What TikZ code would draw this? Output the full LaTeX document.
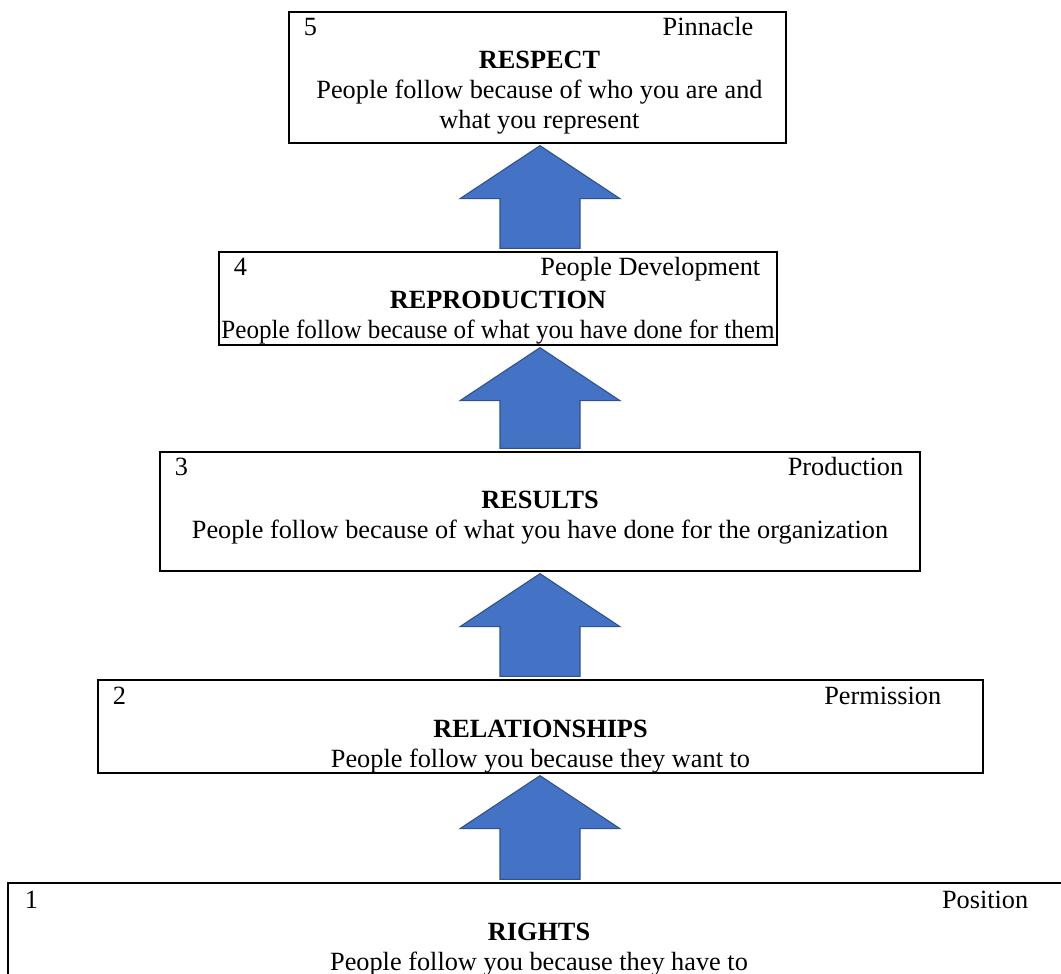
\documentclass[tikz,border=0pt]{standalone}
\usepackage{fontspec}
\usepackage{graphicx}
\setmainfont{Liberation Serif}
\usetikzlibrary{calc,positioning}
\definecolor{arrowblue}{RGB}{68,114,196}
\definecolor{arrowedge}{RGB}{47,82,143}
\newcommand\pxlen{0.4563pt}
\tikzset{
  levelbox/.style={draw=black,line width=0.6pt,rectangle,inner sep=0pt},
  levelnum/.style={anchor=base west,inner sep=0pt},
  levelname/.style={anchor=base east,inner sep=0pt},
  leveltext/.style={anchor=north,inner sep=0pt,align=center},
  blockarrow/.style={fill=arrowblue,draw=arrowedge,line width=0.5pt,line join=miter}
}

\begin{document}
\begin{tikzpicture}[x=\pxlen,y=\pxlen,font=\fontsize{12}{13.7}\selectfont]
\useasboundingbox (0,0) rectangle (1061,-973);
\clip (0,0) rectangle (1061,-973);
\coordinate (axis) at (540,0);

% the five levels, from the top down
\node[levelbox,minimum width=497*\pxlen,minimum height=131*\pxlen] (lvlfive) at (537.5,-77.5) {};
\node[levelnum] (lvlfive-num) at ([shift={(15,-24)}]lvlfive.north west) {5};
\node[levelname] (lvlfive-name) at ([shift={(-33,-24)}]lvlfive.north east) {Pinnacle};
\node[leveltext] (lvlfive-text) at ([shift={(2,-39)}]lvlfive.north)
  {\textbf{RESPECT}\\People follow because of who you are and\\what you represent};

\node[levelbox,minimum width=558*\pxlen,minimum height=93*\pxlen] (lvlfour) at (498,-298.5) {};
\node[levelnum] (lvlfour-num) at ([shift={(15,-24)}]lvlfour.north west) {4};
\node[levelname] (lvlfour-name) at ([shift={(-17,-24)}]lvlfour.north east) {People Development};
\node[leveltext] (lvlfour-text) at ([shift={(0,-39)}]lvlfour.north)
  {\textbf{REPRODUCTION}\\\scalebox{0.955}[1]{People follow because of what you have done for them}};

\node[levelbox,minimum width=760*\pxlen,minimum height=119*\pxlen] (lvlthree) at (540,-511.5) {};
\node[levelnum] (lvlthree-num) at ([shift={(15,-24)}]lvlthree.north west) {3};
\node[levelname] (lvlthree-name) at ([shift={(-17,-24)}]lvlthree.north east) {Production};
\node[leveltext] (lvlthree-text) at ([shift={(0,-39)}]lvlthree.north)
  {\textbf{RESULTS}\\People follow because of what you have done for the organization};

\node[levelbox,minimum width=885*\pxlen,minimum height=93*\pxlen] (lvltwo) at (540.5,-726.5) {};
\node[levelnum] (lvltwo-num) at ([shift={(15,-25)}]lvltwo.north west) {2};
\node[levelname] (lvltwo-name) at ([shift={(-42,-25)}]lvltwo.north east) {Permission};
\node[leveltext] (lvltwo-text) at ([shift={(0,-40)}]lvltwo.north)
  {\textbf{RELATIONSHIPS}\\People follow you because they want to};

\node[levelbox,minimum width=1062*\pxlen,minimum height=117*\pxlen] (lvlone) at (539,-941.5) {};
\node[levelnum] (lvlone-num) at ([shift={(17,-26)}]lvlone.north west) {1};
\node[levelname] (lvlone-name) at ([shift={(-42,-26)}]lvlone.north east) {Position};
\node[leveltext] (lvlone-text) at ([shift={(0,-40)}]lvlone.north)
  {\textbf{RIGHTS}\\People follow you because they have to};

% block arrows between the levels
\foreach \lower/\upper in {lvlfour/lvlfive,lvlthree/lvlfour,lvltwo/lvlthree,lvlone/lvltwo}{
  \coordinate (tip) at ($(axis |- \upper.south)+(0,-2)$);
  \coordinate (tail) at ($(axis |- \lower.north)+(0,3)$);
  \draw[blockarrow] (tip) -- ([shift={(80,-53)}]tip) -- ([shift={(40,-53)}]tip)
    -- ([shift={(40,0)}]tail) -- ([shift={(-40,0)}]tail)
    -- ([shift={(-40,-53)}]tip) -- ([shift={(-80,-53)}]tip) -- cycle;
}
\end{tikzpicture}
\end{document}
